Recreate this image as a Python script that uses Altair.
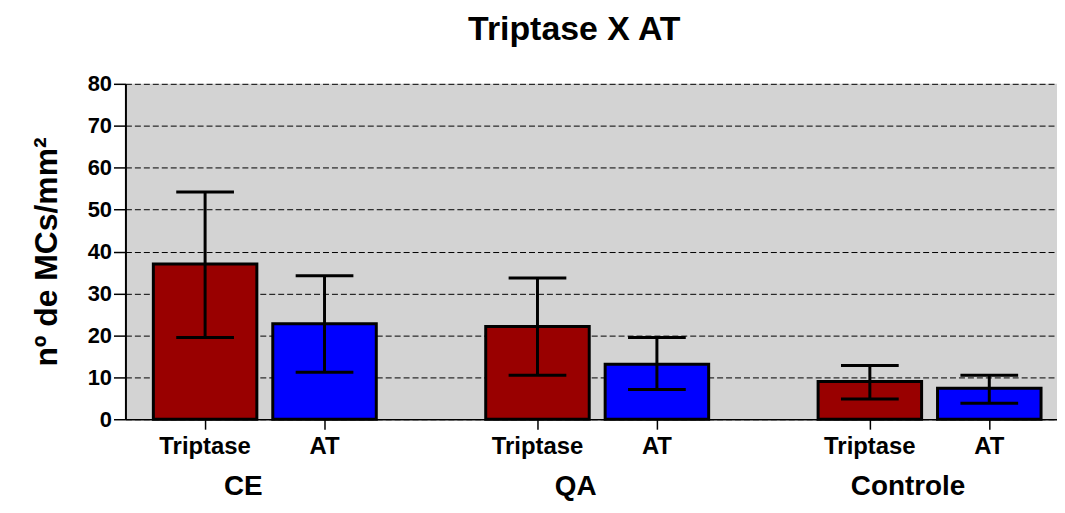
import altair as alt
import pandas as pd

groups = ["CE", "QA", "Controle"]
series = ["Triptase", "AT"]
means = [37.0, 22.8, 22.1, 13.1, 9.0, 7.4]
upper = [54.2, 34.2, 33.7, 19.5, 12.8, 10.5]
lower = [19.5, 11.2, 10.5, 7.1, 4.8, 3.8]
colors = ["#990000", "#0000FF"]

GROUP_STEP = 2.783
rows = []
i = 0
for gi, g in enumerate(groups):
    for si, s in enumerate(series):
        rows.append(dict(group=g, series=s, pos=gi * GROUP_STEP + si,
                         mean=means[i], upper=upper[i], lower=lower[i]))
        i += 1
df = pd.DataFrame(rows)
gdf = pd.DataFrame({"group": groups,
                    "pos": [gi * GROUP_STEP + 0.5 - 0.18 for gi in range(len(groups))]})

W, H = 936, 337
FONT = "Liberation Sans"

xscale = alt.Scale(domain=[-0.667, 7.133], nice=False, zero=False, padding=0)
yscale = alt.Scale(domain=[0, 80], nice=False)

xaxis = alt.Axis(values=list(df["pos"]), labels=False, grid=False, ticks=True,
                 tickSize=10, tickColor="black", tickWidth=1.5,
                 domainColor="black", domainWidth=1.5, title=None)
yaxis = alt.Axis(values=list(range(0, 90, 10)), grid=True, gridColor="black",
                 gridDash=[6, 3], gridWidth=1, gridOpacity=1,
                 labelFont=FONT, labelFontSize=22, labelFontWeight="bold",
                 labelColor="black", labelPadding=2,
                 ticks=True, tickSize=12, tickColor="black", tickWidth=1.5,
                 domainColor="black", domainWidth=2,
                 title="nº de MCs/mm²", titleFont=FONT, titleFontSize=32,
                 titleFontWeight="bold", titleColor="black", titlePadding=24)

X = alt.X("pos:Q", scale=xscale, axis=xaxis)

base = alt.Chart(df)
bars = base.mark_bar(size=104, stroke="black", strokeWidth=3).encode(
    x=X,
    y=alt.Y("mean:Q", scale=yscale, axis=yaxis),
    color=alt.Color("series:N", scale=alt.Scale(domain=series, range=colors), legend=None),
)
rule = base.mark_rule(color="black", strokeWidth=3).encode(
    x=X,
    y=alt.Y("lower:Q", scale=yscale, axis=yaxis),
    y2="upper:Q",
)
cap_up = base.mark_tick(orient="horizontal", size=58, thickness=3, color="black", opacity=1).encode(
    x=X, y=alt.Y("upper:Q", scale=yscale, axis=yaxis))
cap_lo = base.mark_tick(orient="horizontal", size=58, thickness=3, color="black", opacity=1).encode(
    x=X, y=alt.Y("lower:Q", scale=yscale, axis=yaxis))

series_text = base.mark_text(font=FONT, fontSize=24, fontWeight="bold", color="black",
                             baseline="middle").encode(
    x=X, y=alt.value(H + 28), text="series:N")
group_text = alt.Chart(gdf).mark_text(font=FONT, fontSize=28, fontWeight="bold", color="black",
                                      baseline="middle").encode(
    x=X, y=alt.value(H + 68), text="group:N")

chart = alt.layer(bars, rule, cap_up, cap_lo, series_text, group_text).properties(
    width=W, height=H,
    title=alt.TitleParams("Triptase X AT", font=FONT, fontSize=34, fontWeight="bold",
                          color="black", offset=26, dx=-17),
    padding={"left": 118, "top": 75, "right": 0, "bottom": 85},
    autosize="none",
).configure_view(fill="#d3d3d3", stroke=None)

chart.save("out.html", embed_options={"renderer": "svg", "actions": False})
